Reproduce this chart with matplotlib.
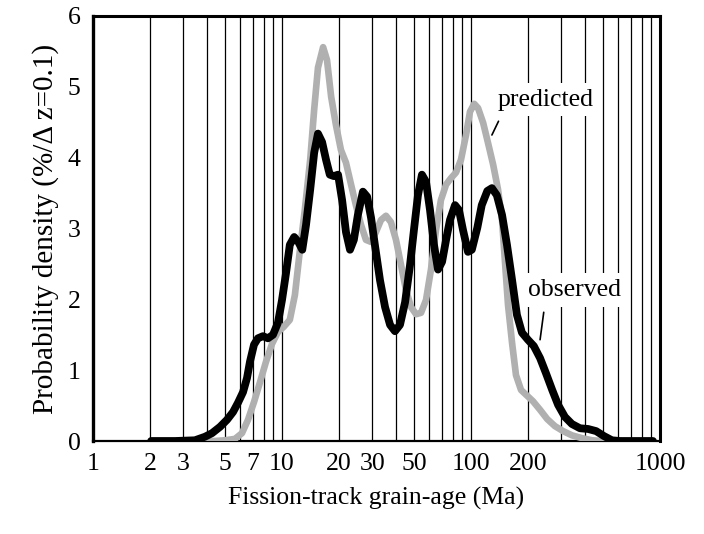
import matplotlib
matplotlib.use("Agg")
import matplotlib.pyplot as plt
from matplotlib.ticker import LogLocator, FixedLocator, NullFormatter

# ---- data ----
obs_age = [2.03, 2.72, 3.46, 3.91, 4.26, 4.70, 5.12, 5.51, 5.85, 6.22, 6.53, 6.77, 7.11, 7.46,
           7.93, 8.43, 8.96, 9.52, 10.0, 10.5, 11.0, 11.6, 12.2, 12.8, 13.4, 14.1, 14.8, 15.5,
           16.3, 17.1, 17.9, 18.8, 19.8, 20.8, 21.8, 22.9, 24.0, 25.2, 26.8, 28.2, 29.6, 31.0,
           33.0, 35.1, 37.3, 39.6, 42.1, 44.8, 47.6, 49.9, 52.4, 55.0, 57.8, 60.7, 63.7, 66.9,
           70.3, 73.8, 77.4, 82.3, 86.4, 90.7, 96.4, 101, 108, 114, 122, 129, 137, 146, 155,
           165, 175, 186, 200, 215, 232, 249, 269, 289, 314, 342, 377, 416, 459, 505, 557,
           614, 918]
obs_dens = [0, 0, 0.01, 0.06, 0.11, 0.20, 0.30, 0.41, 0.54, 0.69, 0.89, 1.12, 1.36, 1.45,
            1.48, 1.45, 1.50, 1.67, 1.99, 2.37, 2.77, 2.88, 2.81, 2.70, 3.05, 3.55, 4.07, 4.34,
            4.22, 3.97, 3.76, 3.74, 3.76, 3.40, 2.95, 2.70, 2.84, 3.19, 3.52, 3.45, 3.15, 2.77,
            2.27, 1.89, 1.64, 1.55, 1.64, 1.96, 2.49, 2.98, 3.47, 3.76, 3.66, 3.26, 2.77, 2.42,
            2.53, 2.84, 3.12, 3.33, 3.26, 2.98, 2.67, 2.70, 3.01, 3.33, 3.53, 3.57, 3.47, 3.19,
            2.77, 2.27, 1.78, 1.53, 1.43, 1.34, 1.17, 0.96, 0.72, 0.51, 0.34, 0.24, 0.18, 0.17,
            0.14, 0.07, 0.01, 0, 0]

pred_age = [3.91, 4.42, 4.99, 5.64, 6.14, 6.61, 7.11, 7.65, 8.23, 8.85, 9.52, 10.2, 11.0,
            11.7, 12.4, 13.2, 14.1, 14.8, 15.5, 16.5, 17.3, 18.2, 19.3, 20.5, 21.8, 23.2, 24.6,
            26.2, 27.8, 29.6, 31.4, 33.4, 35.5, 37.7, 40.1, 42.6, 45.3, 48.2, 51.2, 54.4, 57.8,
            61.4, 65.3, 69.3, 73.8, 78.3, 83.3, 88.5, 94.1, 98.8, 104, 109, 116, 123, 131, 139,
            146, 151, 157, 165, 173, 184, 198, 213, 232, 253, 278, 307, 342, 387, 437, 493]
pred_dens = [0, 0, 0.01, 0.03, 0.11, 0.30, 0.55, 0.83, 1.12, 1.37, 1.54, 1.61, 1.71, 2.06,
             2.66, 3.26, 3.97, 4.68, 5.27, 5.56, 5.38, 4.86, 4.46, 4.11, 3.93, 3.62, 3.33, 3.05,
             2.84, 2.81, 2.95, 3.12, 3.18, 3.09, 2.84, 2.49, 2.13, 1.89, 1.79, 1.81, 1.99, 2.42,
             2.98, 3.40, 3.62, 3.71, 3.79, 3.97, 4.32, 4.65, 4.76, 4.70, 4.49, 4.21, 3.90, 3.55,
             3.12, 2.56, 1.92, 1.38, 0.93, 0.72, 0.64, 0.56, 0.44, 0.31, 0.21, 0.14, 0.08, 0.04,
             0.01, 0]

x_tick_vals = [1, 2, 3, 5, 7, 10, 20, 30, 50, 100, 200, 1000]
x_tick_labels = ["1", "2", "3", "5", "7", "10", "20", "30", "50", "100", "200", "1000"]
y_ticks = [0, 1, 2, 3, 4, 5, 6]

x_label = "Fission-track grain-age (Ma)"
y_label = "Probability density (%/\u0394 z=0.1)"

# ---- figure ----
plt.rcParams["font.family"] = ["Liberation Serif", "DejaVu Serif"]
fig = plt.figure(figsize=(7.04, 5.34), dpi=100)
W, H = 704, 534
ax = fig.add_axes([93 / W, 1 - 441 / H, (660 - 93) / W, (441 - 16) / H])

ax.set_xscale("log")
ax.set_xlim(1, 1000)
ax.set_ylim(0, 6)

ax.xaxis.set_major_locator(FixedLocator(x_tick_vals))
ax.set_xticklabels(x_tick_labels)
ax.xaxis.set_minor_locator(LogLocator(base=10, subs=range(1, 10)))
ax.xaxis.set_minor_formatter(NullFormatter())
ax.set_yticks(y_ticks)
ax.set_yticklabels([str(v) for v in y_ticks])

ax.grid(True, which="both", axis="x", color="black", lw=0.9)
ax.set_axisbelow(True)
ax.tick_params(axis="both", which="both", length=0, labelsize=18.5)
ax.tick_params(axis="x", pad=9)
ax.tick_params(axis="y", pad=9)

for side, lw in [("left", 2.4), ("top", 2.2), ("right", 2.2), ("bottom", 1.6)]:
    ax.spines[side].set_linewidth(lw)
    ax.spines[side].set_color("black")

ax.plot(pred_age, pred_dens, color="#b0b0b0", lw=4.8, solid_joinstyle="round",
        solid_capstyle="round", zorder=3)
ax.plot(obs_age, obs_dens, color="black", lw=5.6, solid_joinstyle="round",
        solid_capstyle="round", zorder=4)

box = dict(boxstyle="square,pad=0.22", fc="white", ec="none")
ax.annotate("predicted", xy=(129, 4.32), xytext=(249, 4.82), fontsize=18.5,
            ha="center", va="center", bbox=box, zorder=6,
            arrowprops=dict(arrowstyle="-", lw=1.2, color="black", relpos=(0.06, 0.0),
                            shrinkA=4, shrinkB=0))
ax.annotate("observed", xy=(232, 1.43), xytext=(355, 2.13), fontsize=18.5,
            ha="center", va="center", bbox=box, zorder=6,
            arrowprops=dict(arrowstyle="-", lw=1.2, color="black", relpos=(0.18, 0.0),
                            shrinkA=4, shrinkB=0))

ax.set_xlabel(x_label, fontsize=18.5, labelpad=8)
ax.set_ylabel(y_label, fontsize=21, labelpad=6)

fig.savefig("out.png", dpi=100)
